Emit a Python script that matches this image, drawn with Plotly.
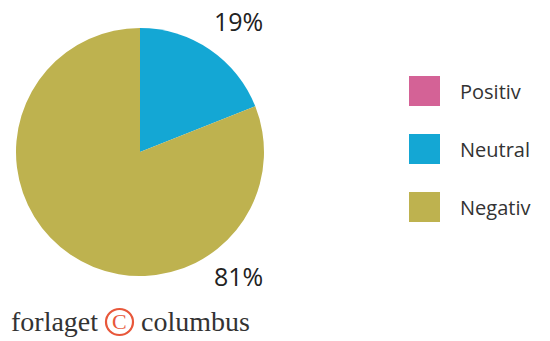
import plotly.graph_objects as go

categories = ["Positiv", "Neutral", "Negativ"]
values = [0, 19, 81]
colors = ["#D46296", "#14A7D4", "#BEB24F"]

W, H = 550, 341
fig = go.Figure()
fig.add_trace(go.Pie(
    labels=categories, values=values, sort=False, direction="clockwise",
    marker=dict(colors=colors, line=dict(width=0)),
    textinfo="none", hoverinfo="label+percent", showlegend=False,
    domain=dict(x=[16/W, 264/W], y=[65/H, 313/H]),
))

# percent labels
txt_font = dict(family="Open Sans, Liberation Sans, sans-serif", size=25, color="#222222")
fig.add_annotation(x=238.5/W, y=1-21/H, xref="paper", yref="paper", text=f"{values[1]}%",
                   showarrow=False, font=txt_font, xanchor="center", yanchor="middle")
fig.add_annotation(x=238.5/W, y=1-276/H, xref="paper", yref="paper", text=f"{values[2]}%",
                   showarrow=False, font=txt_font, xanchor="center", yanchor="middle")

# legend (manual)
leg_font = dict(family="Open Sans, sans-serif", size=20, color="#333333")
for i, (cat, col) in enumerate(zip(categories, colors)):
    top = 76 + i * 58
    fig.add_shape(type="rect", xref="paper", yref="paper",
                  x0=409/W, x1=440/W, y0=1-top/H, y1=1-(top+30)/H,
                  fillcolor=col, line=dict(width=0))
    fig.add_annotation(x=458/W, y=1-(top+15)/H, xref="paper", yref="paper", text=cat,
                       showarrow=False, font=leg_font, xanchor="left", yanchor="middle")

# footer
serif = dict(family="Liberation Serif, DejaVu Serif, serif", size=28, color="#333333")
fig.add_annotation(x=9/W, y=1-321/H, xref="paper", yref="paper", text="forlaget",
                   showarrow=False, font=serif, xanchor="left", yanchor="middle")
fig.add_annotation(x=139/W, y=1-321/H, xref="paper", yref="paper", text="columbus",
                   showarrow=False, font=serif, xanchor="left", yanchor="middle")
fig.add_shape(type="circle", xref="paper", yref="paper",
              x0=106/W, x1=133/W, y0=1-309/H, y1=1-335/H,
              line=dict(color="#E8573A", width=2.2))
fig.add_annotation(x=119.5/W, y=1-321.5/H, xref="paper", yref="paper", text="C",
                   showarrow=False, font=dict(family="Liberation Serif, serif", size=22, color="#E8573A"),
                   xanchor="center", yanchor="middle")

fig.update_layout(width=W, height=H, margin=dict(l=0, r=0, t=0, b=0),
                  paper_bgcolor="white", plot_bgcolor="white")
fig.write_html("out.html")
